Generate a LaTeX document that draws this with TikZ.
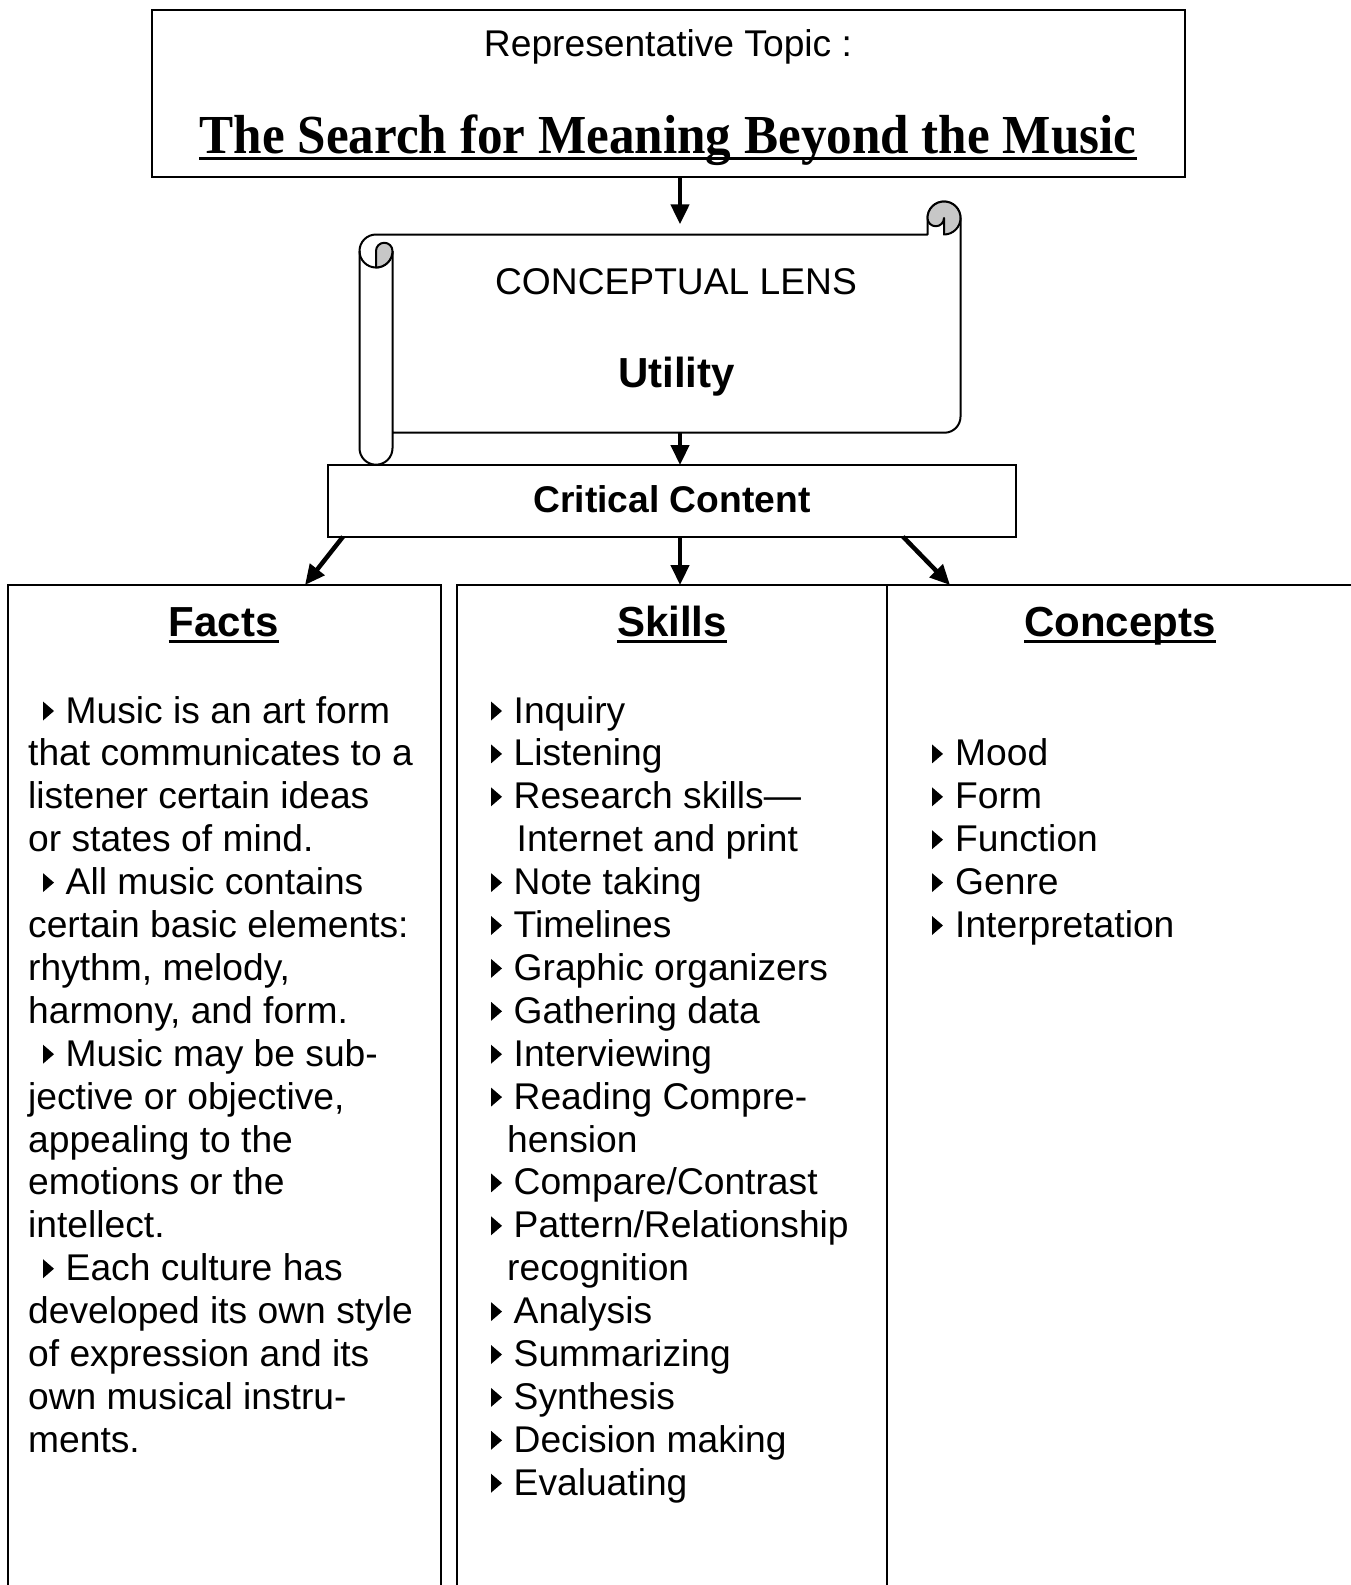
\documentclass[tikz,border=0pt]{standalone}
\usepackage{fontspec}
\setmainfont{Liberation Sans}
\newfontfamily\titlefont[FakeStretch=0.93]{Liberation Serif}
\usetikzlibrary{arrows.meta}
\newcommand\txtline[4]{\node[bodytxt] (#1) at (#2, 723+#3*42.9) {#4};}
\newcommand\trimark[2]{\fill (#1, 723+#2*42.9-2.5) -- (#1, 723+#2*42.9-21.5) -- (#1+11, 723+#2*42.9-12) -- cycle;}
\begin{document}
\begin{tikzpicture}[x=1pt,y=-1pt,
  boxed/.style={draw, line width=2pt, inner sep=0pt, outer sep=0pt},
  arr/.style={line width=4.5pt, -{Triangle[length=20pt,width=18pt]}},
  bodytxt/.style={font=\fontsize{37.2}{43}\selectfont, anchor=base west, inner sep=0pt},
  headtxt/.style={font=\fontsize{42}{48}\selectfont\bfseries, anchor=base, inner sep=0pt},
  scroll/.style={line width=2pt, line join=round},
  rollfill/.style={scroll, fill=black!22},
  ]
\useasboundingbox (0,0) rectangle (1351,1585);
\clip (0,0) rectangle (1351,1585);
\coordinate (ax) at (680,0);

% top box
\node[boxed, minimum width=1032.8pt, minimum height=166.7pt] (topbox) at (668.1,93.35) {};
\node[font=\fontsize{37.2}{43}\selectfont, anchor=base, inner sep=0pt] (rep) at (668,56.5) {Representative Topic :};
\node[font=\titlefont\bfseries\fontsize{55}{60}\selectfont, anchor=base, inner sep=0pt] (title) at (668,153) {The Search for Meaning Beyond the Music};
\draw[line width=2.7pt] ([yshift=-5.3pt]title.base west) -- ([yshift=-5.3pt]title.base east);

% scroll (conceptual lens)
\node[inner sep=0pt, minimum width=568pt, minimum height=198.2pt] (lens) at (676.5,333.6) {};
\draw[scroll] (392.5,432.7) -- (944.5,432.7) arc[start angle=90,end angle=0,radius=16]
  -- (960.5,218) arc[start angle=0,end angle=-180,radius=16.5]
  -- (927.5,234.5) -- (376,234.5) arc[start angle=-90,end angle=-180,radius=16.5]
  -- (359.5,448.2) arc[start angle=180,end angle=0,radius=16.5] -- (392.5,251);
\draw[scroll] (359.5,251) arc[start angle=180,end angle=0,radius=16.5];
\filldraw[rollfill] (376,267.5) -- (376,251) arc[start angle=180,end angle=360,radius=8.25]
  arc[start angle=0,end angle=90,radius=16.5] -- cycle;
\filldraw[rollfill] (927.5,218) arc[start angle=180,end angle=360,radius=16.5]
  arc[start angle=0,end angle=90,radius=16.5] -- (944,218)
  arc[start angle=0,end angle=180,radius=8.25] -- cycle;
\node[font=\fontsize{37.2}{43}\selectfont, anchor=base, inner sep=0pt] (cl) at (676,294.3) {CONCEPTUAL LENS};
\node[font=\fontsize{42}{48}\selectfont\bfseries, anchor=base, inner sep=0pt] (util) at (676.5,387) {Utility};

% critical content
\node[boxed, minimum width=687.6pt, minimum height=71.7pt] (cc) at (671.8,500.85) {};
\node[font=\fontsize{37.2}{43}\selectfont\bfseries, anchor=base, inner sep=0pt] (cct) at (672,512.5) {Critical Content};

% columns
\node[boxed, minimum width=433pt, minimum height=1015pt] (facts) at (224.5,1092.5) {};
\node[boxed, minimum width=430pt, minimum height=1015pt] (skills) at (672,1092.5) {};
\node[boxed, minimum width=478pt, minimum height=1015pt] (concepts) at (1126,1092.5) {};

% arrows
\draw[arr] (topbox.south -| ax) -- ([yshift=10pt]lens.north -| ax);
\draw[arr] (lens.south -| ax) -- (cc.north -| ax);
\draw[arr] ([xshift=15pt]cc.south west) -- ([xshift=297pt]facts.north west);
\draw[arr] (cc.south -| ax) -- (skills.north -| ax);
\draw[arr] ([xshift=575pt]cc.south west) -- ([xshift=63pt]concepts.north west);

% headers
\node[headtxt] (hf) at (223.8,636.6) {Facts};
\node[headtxt] (hs) at (672,636.6) {Skills};
\node[headtxt] (hc) at (1120,636.6) {Concepts};
\foreach \h in {hf,hs,hc}
  \draw[line width=3pt] ([yshift=-4.5pt]\h.base west) -- ([yshift=-4.5pt]\h.base east);

% facts text
\trimark{43}{0}\txtline{f0}{65.5}{0}{Music is an art form}
\txtline{f1}{28}{1}{that communicates to a}
\txtline{f2}{28}{2}{listener certain ideas}
\txtline{f3}{28}{3}{or states of mind.}
\trimark{43}{4}\txtline{f4}{65.5}{4}{All music contains}
\txtline{f5}{28}{5}{certain basic elements:}
\txtline{f6}{28}{6}{rhythm, melody,}
\txtline{f7}{28}{7}{harmony, and form.}
\trimark{43}{8}\txtline{f8}{65.5}{8}{Music may be sub-}
\txtline{f9}{28}{9}{jective or objective,}
\txtline{f10}{28}{10}{appealing to the}
\txtline{f11}{28}{11}{emotions or the}
\txtline{f12}{28}{12}{intellect.}
\trimark{43}{13}\txtline{f13}{65.5}{13}{Each culture has}
\txtline{f14}{28}{14}{developed its own style}
\txtline{f15}{28}{15}{of expression and its}
\txtline{f16}{28}{16}{own musical instru-}
\txtline{f17}{28}{17}{ments.}

% skills text
\foreach \i/\t in {0/Inquiry,1/Listening,2/Research skills—,4/Note taking,5/Timelines,6/Graphic organizers,7/Gathering data,8/Interviewing,9/Reading Compre-,11/Compare\slash Contrast,12/Pattern\slash Relationship,14/Analysis,15/Summarizing,16/Synthesis,17/Decision making,18/Evaluating}{
  \trimark{491}{\i}\txtline{s\i}{513.5}{\i}{\t}
}
\txtline{s3}{516.5}{3}{Internet and print}
\txtline{s10}{507}{10}{hension}
\txtline{s13}{507}{13}{recognition}

% concepts text
\foreach \i/\t in {1/Mood,2/Form,3/Function,4/Genre,5/Interpretation}{
  \trimark{932}{\i}\txtline{c\i}{955}{\i}{\t}
}
\end{tikzpicture}
\end{document}
